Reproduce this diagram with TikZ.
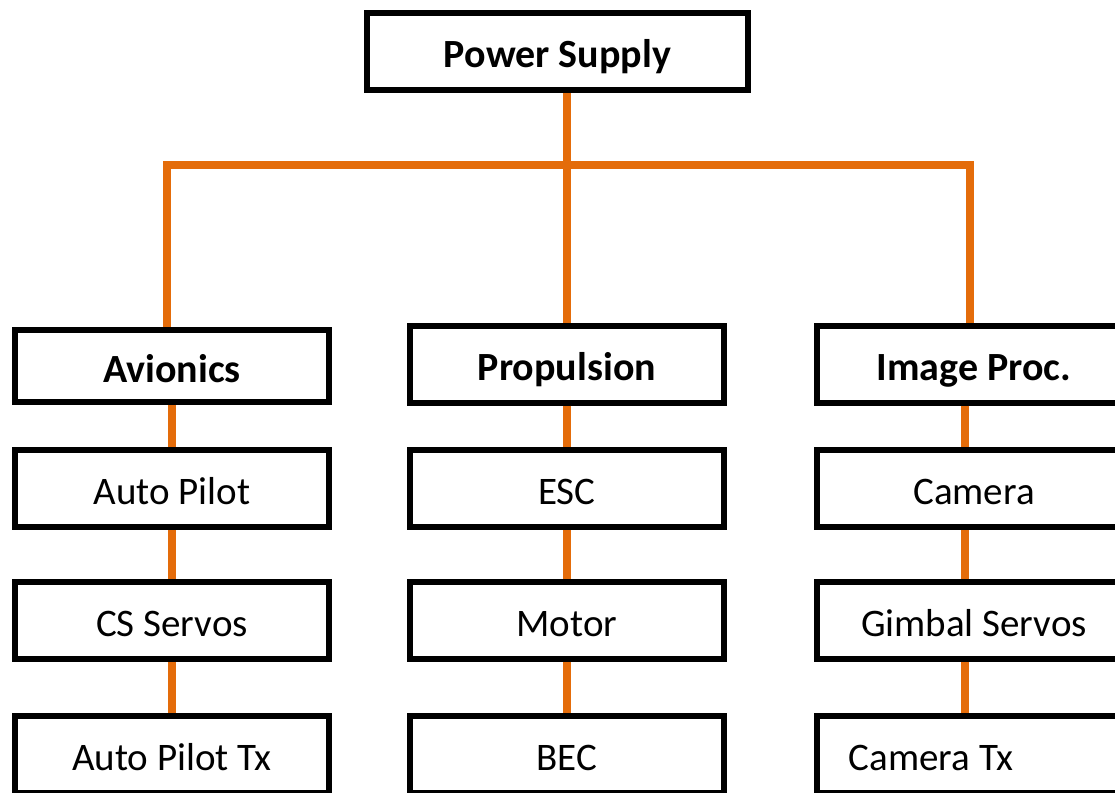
\documentclass[tikz,border=0pt]{standalone}
\usepackage{fontspec}
\setmainfont{Carlito}
\usepackage{xcolor}
\usepackage{tikz}
\definecolor{wireorange}{RGB}{228,108,10}
\tikzset{
  unitbox/.style={
    draw=black,
    fill=white,
    line width=3pt,
    minimum width=157pt,
    minimum height=38.5pt,
    inner sep=0pt,
    text height=16.2pt,
    text depth=0pt,
    align=center,
    font=\fontsize{19.5}{23}\selectfont
  },
  headbox/.style={
    unitbox,
    text height=16.4pt,
    font=\fontsize{20}{24}\selectfont\bfseries
  },
  wire/.style={
    line width=4pt,
    draw=wireorange
  }
}

\begin{document}
\begin{tikzpicture}[x=0.5pt, y=-0.5pt]
  \useasboundingbox (0,0) rectangle (1115,793);
  \clip (0,0) rectangle (1115,793);
  \fill[white] (0,0) rectangle (1115,793);
  % top
  \node[headbox, minimum width=190.5pt] (ps) at (557.5,51.5) {Power Supply};
  % row 1
  \node[headbox, minimum height=36pt] (avio) at (172,366) {Avionics};
  \node[headbox] (prop) at (567,364) {Propulsion};
  \node[headbox] (img) at (974,364) {Image Proc.};
  % row 2
  \node[unitbox] (apilot) at (172,488.5) {Auto Pilot};
  \node[unitbox] (esc) at (567,488.5) {ESC};
  \node[unitbox] (camera) at (974,488.5) {Camera};
  % row 3
  \node[unitbox] (csservo) at (172,620.5) {CS Servos};
  \node[unitbox] (motor) at (567,620.5) {Motor};
  \node[unitbox] (gimbal) at (974,620.5) {Gimbal Servos};
  % row 4
  \node[unitbox] (aptx) at (172,754.5) {Auto Pilot Tx};
  \node[unitbox] (bec) at (567,754.5) {BEC};
  \node[unitbox] (camtx) at (974,754.5) {\hspace*{-43pt}Camera Tx};
  % bus
  \coordinate (busL) at (167,165);
  \coordinate (busR) at (970,165);
  \draw[wire] (ps.south -| prop) -- (prop.north);
  \draw[wire] (avio.north -| busL) -- (busL) -- (busR) -- (img.north -| busR);
  \foreach \a/\b in {avio/apilot,apilot/csservo,csservo/aptx,
                     prop/esc,esc/motor,motor/bec}
    \draw[wire] (\a) -- (\b);
  \foreach \a/\b in {img/camera,camera/gimbal,gimbal/camtx}
    \draw[wire] ([xshift=-4.5pt]\a.south) -- ([xshift=-4.5pt]\b.north);
\end{tikzpicture}
\end{document}
